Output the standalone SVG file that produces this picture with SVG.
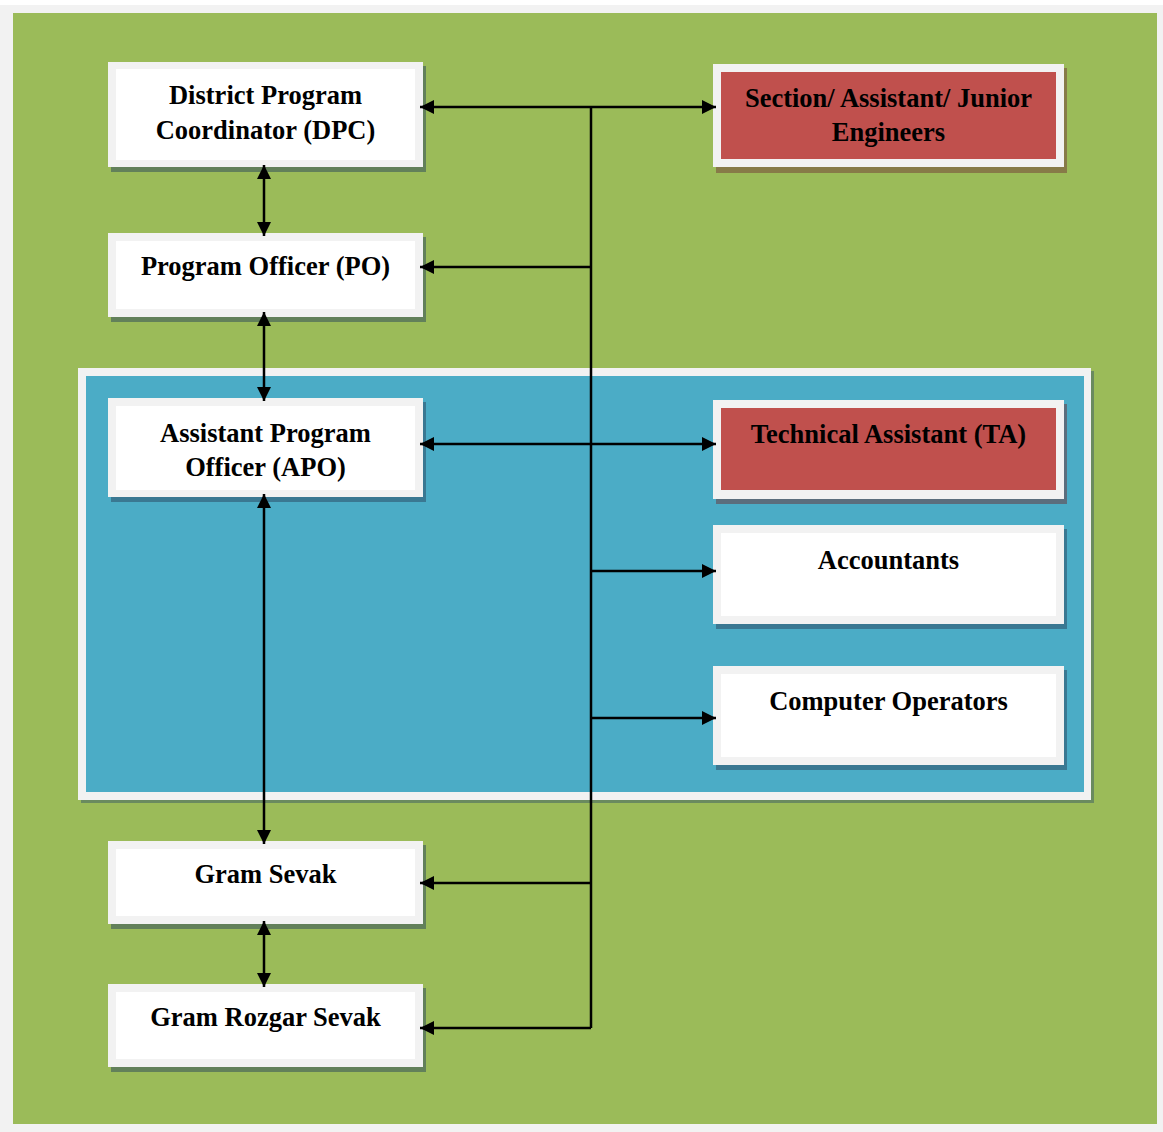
<svg xmlns="http://www.w3.org/2000/svg" width="1163" height="1132" viewBox="0 0 1163 1132">
<defs>
<style>
.t{font-family:"Liberation Serif","Times New Roman",serif;font-weight:bold;font-size:26.5px;fill:#000;text-anchor:middle}
.frame{fill:#f2f2f2}
.w{fill:#ffffff}
.r{fill:#c0504d}
.sg{fill:#62805a}
.sb{fill:#3a7892}
.sr{fill:#877a48}
.st{fill:#5b6e7d}
.c{stroke:#000;stroke-width:2.5;fill:none}
</style>
<marker id="ah" viewBox="0 0 14 14" refX="14" refY="7" markerWidth="14" markerHeight="14" markerUnits="userSpaceOnUse" orient="auto-start-reverse">
<path d="M0,0 L14,7 L0,14 z" fill="#000"/>
</marker>
</defs>
<rect x="0" y="0" width="1163" height="1132" fill="#ffffff"/>
<rect x="0" y="5" width="1163" height="1127" class="frame"/>
<rect x="13" y="13" width="1144" height="1111" fill="#9bbb59"/>

<g id="container">
<rect x="81" y="371" width="1013" height="432" fill="#6a8a5f"/>
<rect x="78" y="368" width="1013" height="432" class="frame"/>
<rect x="86" y="376" width="998" height="416" fill="#4bacc6"/>
</g>

<g id="dpc">
<rect x="111" y="66" width="315" height="106" class="sg"/>
<rect x="108" y="62" width="315" height="105" class="frame"/>
<rect x="116" y="69" width="299" height="91" class="w"/>
<text class="t" x="265.5" y="104">District Program</text>
<text class="t" x="265.5" y="139">Coordinator (DPC)</text>
</g>

<g id="engineers">
<rect x="716" y="68" width="351" height="105" class="sr"/>
<rect x="713" y="64" width="351" height="103" class="frame"/>
<rect x="721" y="72" width="335" height="87" class="r"/>
<text class="t" x="888.5" y="107">Section/ Assistant/ Junior</text>
<text class="t" x="888.5" y="141">Engineers</text>
</g>

<g id="po">
<rect x="111" y="237" width="315" height="85" class="sg"/>
<rect x="108" y="233" width="315" height="84" class="frame"/>
<rect x="116" y="241" width="299" height="68" class="w"/>
<text class="t" x="265.5" y="275">Program Officer (PO)</text>
</g>

<g id="apo">
<rect x="111" y="402" width="315" height="100" class="sb"/>
<rect x="108" y="398" width="315" height="99" class="frame"/>
<rect x="116" y="406" width="299" height="84" class="w"/>
<text class="t" x="265.5" y="442">Assistant Program</text>
<text class="t" x="265.5" y="476">Officer (APO)</text>
</g>

<g id="ta">
<rect x="716" y="404" width="351" height="100" class="st"/>
<rect x="713" y="400" width="351" height="99" class="frame"/>
<rect x="721" y="408" width="335" height="82" class="r"/>
<text class="t" x="888.5" y="443">Technical Assistant (TA)</text>
</g>

<g id="accountants">
<rect x="716" y="529" width="351" height="100" class="sb"/>
<rect x="713" y="525" width="351" height="99" class="frame"/>
<rect x="721" y="533" width="335" height="83" class="w"/>
<text class="t" x="888.5" y="569">Accountants</text>
</g>

<g id="operators">
<rect x="716" y="670" width="351" height="100" class="sb"/>
<rect x="713" y="666" width="351" height="99" class="frame"/>
<rect x="721" y="674" width="335" height="83" class="w"/>
<text class="t" x="888.5" y="710">Computer Operators</text>
</g>

<g id="gramsevak">
<rect x="111" y="845" width="315" height="84" class="sg"/>
<rect x="108" y="841" width="315" height="83" class="frame"/>
<rect x="116" y="849" width="299" height="67" class="w"/>
<text class="t" x="265.5" y="883">Gram Sevak</text>
</g>

<g id="gramrozgarsevak">
<rect x="111" y="988" width="315" height="84" class="sg"/>
<rect x="108" y="984" width="315" height="83" class="frame"/>
<rect x="116" y="992" width="299" height="67" class="w"/>
<text class="t" x="265.5" y="1026">Gram Rozgar Sevak</text>
</g>

<g id="connectors">
<line class="c" x1="591" y1="107" x2="591" y2="1028"/>
<line class="c" x1="420" y1="107" x2="716" y2="107" marker-start="url(#ah)" marker-end="url(#ah)"/>
<line class="c" x1="591" y1="267" x2="420" y2="267" marker-end="url(#ah)"/>
<line class="c" x1="420" y1="444" x2="716" y2="444" marker-start="url(#ah)" marker-end="url(#ah)"/>
<line class="c" x1="591" y1="571" x2="716" y2="571" marker-end="url(#ah)"/>
<line class="c" x1="591" y1="718" x2="716" y2="718" marker-end="url(#ah)"/>
<line class="c" x1="591" y1="883" x2="420" y2="883" marker-end="url(#ah)"/>
<line class="c" x1="591" y1="1028" x2="420" y2="1028" marker-end="url(#ah)"/>
<line class="c" x1="264" y1="165" x2="264" y2="236" marker-start="url(#ah)" marker-end="url(#ah)"/>
<line class="c" x1="264" y1="312" x2="264" y2="401" marker-start="url(#ah)" marker-end="url(#ah)"/>
<line class="c" x1="264" y1="494" x2="264" y2="844" marker-start="url(#ah)" marker-end="url(#ah)"/>
<line class="c" x1="264" y1="921" x2="264" y2="987" marker-start="url(#ah)" marker-end="url(#ah)"/>
</g>
</svg>
